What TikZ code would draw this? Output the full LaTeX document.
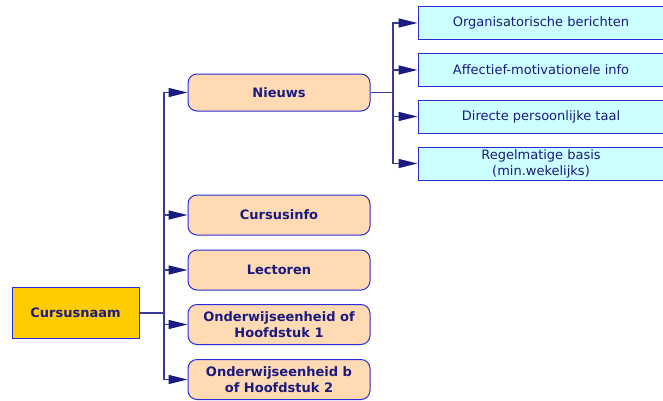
\documentclass[tikz,border=0pt]{standalone}
\usepackage{fontspec}
\setmainfont{DejaVu Sans}
\usetikzlibrary{arrows.meta}

\definecolor{navy}{HTML}{1A1A80}
\definecolor{edge}{HTML}{2B2BD6}
\definecolor{wire}{HTML}{3A3A9A}
\definecolor{gold}{HTML}{FFCC00}
\definecolor{peach}{HTML}{FFDAB2}
\definecolor{icecyan}{HTML}{CCFFFF}

\begin{document}
\begin{tikzpicture}[x=1pt,y=-1pt,
  font=\fontsize{13}{16}\selectfont,text=navy,
  arr/.style={draw=wire,line width=1.4pt,-{Triangle[length=19pt,width=9pt,color=navy,fill=navy]}},
  ln/.style={draw=wire,line width=1.4pt},
  root/.style={draw=edge,fill=gold,line width=1pt,minimum width=127pt,minimum height=51pt,font=\fontsize{13}{15.5}\selectfont\bfseries},
  topic/.style={draw=edge,fill=peach,line width=1pt,rounded corners=9pt,minimum width=182pt,minimum height=40pt,align=center,inner sep=2pt,font=\fontsize{13}{15.5}\selectfont\bfseries},
  item/.style={draw=edge,fill=icecyan,line width=1pt,minimum width=246pt,minimum height=33pt,align=center,inner sep=1pt}]
  \clip (0,0) rectangle (663,400);

  \node[root] (cur) at (75.5,313) {Cursusnaam};

  \node[topic,minimum height=37pt] (nieuws) at (279,92.5) {Nieuws};
  \node[topic] (info) at (279,215) {Cursusinfo};
  \node[topic] (lect) at (279,270) {Lectoren};
  \node[topic] (oe1) at (279,324.5) {Onderwijseenheid of\\Hoofdstuk 1};
  \node[topic] (oe2) at (279,379.5) {Onderwijseenheid b\\of Hoofdstuk 2};

  \node[item] (org) at (541,23) {Organisatorische berichten};
  \node[item] (aff) at (541,70) {Affectief-motivationele info};
  \node[item] (dir) at (541,116.5) {Directe persoonlijke taal};
  \node[item] (reg) at (541,163.5) {Regelmatige basis\\(min.wekelijks)};

  % tree from the course name
  \coordinate (hub) at (164,313);
  \draw[ln] (cur.east) -- (hub);
  \foreach \t in {nieuws,info,lect,oe1,oe2}
    \draw[arr] (hub) |- (\t.west);

  % branch under Nieuws
  \coordinate (nhub) at (393,92.5);
  \draw[ln] (nieuws.east) -- (nhub);
  \foreach \t in {org,aff,dir,reg}
    \draw[arr] (nhub) |- (\t.west);
\end{tikzpicture}
\end{document}
